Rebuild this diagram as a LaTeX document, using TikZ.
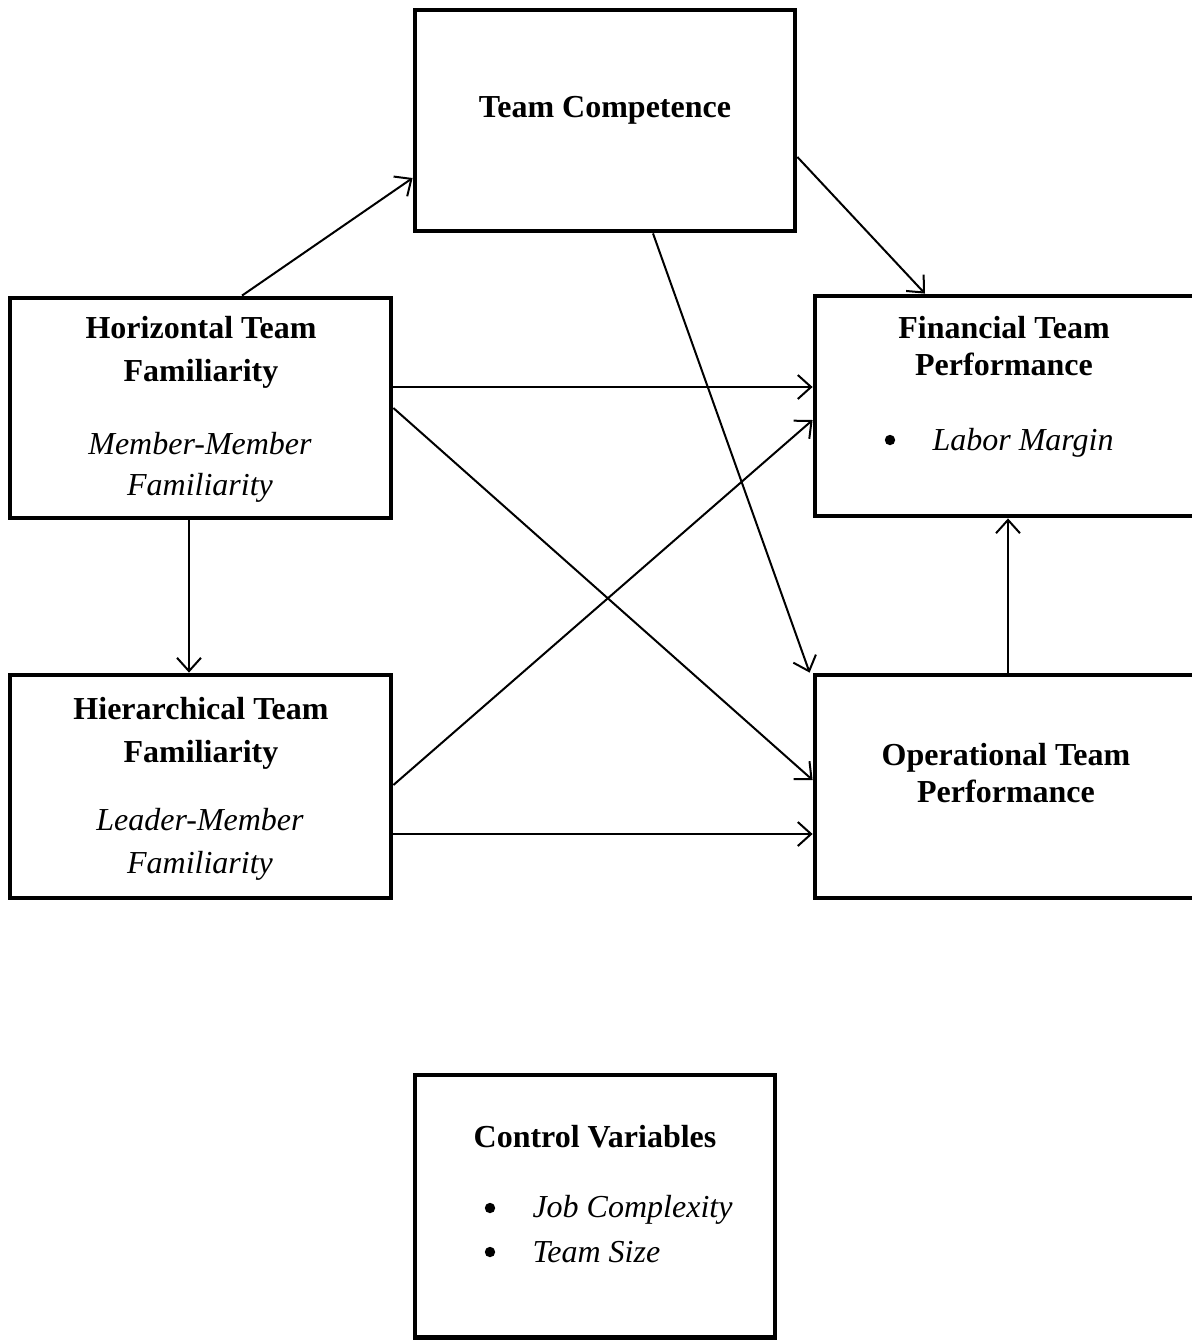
\documentclass[tikz,border=0pt]{standalone}
\usepackage{fontspec}
\setmainfont{Liberation Serif}
\usetikzlibrary{arrows.meta,calc}
\begin{document}
\begin{tikzpicture}[x=0.375pt,y=-0.375pt,
  box/.style 2 args={draw,line width=1.8pt,minimum width=#1,minimum height=#2,inner sep=0pt},
  head/.style={font=\fontsize{12pt}{14pt}\selectfont\bfseries,anchor=base,inner sep=0pt},
  sub/.style={font=\fontsize{12pt}{14pt}\selectfont\itshape,anchor=base,inner sep=0pt},
  item/.style={font=\fontsize{12pt}{14pt}\selectfont\itshape,anchor=base west,inner sep=0pt},
  bul/.style={circle,fill,draw=none,inner sep=0pt,minimum size=3.9pt},
  conn/.style={line width=0.75pt,-{Straight Barb[length=5pt,width=9pt,line width=0.75pt]}}]
\useasboundingbox (0,0) rectangle (1191,1341);
% boxes
\node[box={142.5pt}{82.875pt}]  (tc)  at (605,120.5) {};
\node[box={142.875pt}{82.5pt}]  (hor) at (200.5,408) {};
\node[box={142.875pt}{83.625pt}] (hie) at (200.5,786.5) {};
\node[box={146.25pt}{82.5pt}]   (fin) at (1010,406) {};
\node[box={146.25pt}{83.625pt}] (ops) at (1010,786.5) {};
\node[box={135pt}{98.4375pt}]   (cv)  at (595,1206.25) {};
% texts
\node[head] (tct) at (605,117) {Team Competence};
\node[head] (hor1) at (201,338) {Horizontal Team};
\node[head] (hor2) at (201,381) {Familiarity};
\node[sub]  (hor3) at (200,454) {Member-Member};
\node[sub]  (hor4) at (200,495) {Familiarity};
\node[head] (hie1) at (201,719) {Hierarchical Team};
\node[head] (hie2) at (201,762) {Familiarity};
\node[sub]  (hie3) at (200,830) {Leader-Member};
\node[sub]  (hie4) at (200,873) {Familiarity};
\node[head] (fin1) at (1004,338) {Financial Team};
\node[head] (fin2) at (1004,375) {Performance};
\node[bul]  (finb) at (890,440) {};
\node[item] (fin3) at (932,450) {Labor Margin};
\node[head] (ops1) at (1006,765) {Operational Team};
\node[head] (ops2) at (1006,802) {Performance};
\node[head] (cv1) at (595,1147) {Control Variables};
\node[bul]  (cvb1) at (490,1208) {};
\node[item] (cv2) at (532,1217) {Job Complexity};
\node[bul]  (cvb2) at (490,1252) {};
\node[item] (cv3) at (532,1262) {Team Size};
% connectors
\draw[conn] ($(hor.north)+(41.5,0)$) -- ($(tc.west)+(0,57.5)$);
\draw[conn] ($(tc.east)+(0,36.5)$) -- ($(fin.north)+(-85,0)$);
\draw[conn] ($(tc.south)+(48,0)$) -- ($(ops.north west)+(-3,0)$);
\draw[conn] ($(hor.east)+(0,-21)$) -- ($(fin.west)+(0,-19)$);
\draw[conn] (hor.east) -- ($(ops.west)+(0,-6.5)$);
\draw[conn] ($(hor.south)+(-11.5,0)$) -- ($(hie.north)+(-11.5,0)$);
\draw[conn] ($(hie.east)+(0,-1.5)$) -- ($(fin.west)+(0,14)$);
\draw[conn] ($(hie.east)+(0,47.5)$) -- ($(ops.west)+(0,47.5)$);
\draw[conn] ($(ops.north)+(-2,0)$) -- ($(fin.south)+(-2,0)$);
\end{tikzpicture}
\end{document}
